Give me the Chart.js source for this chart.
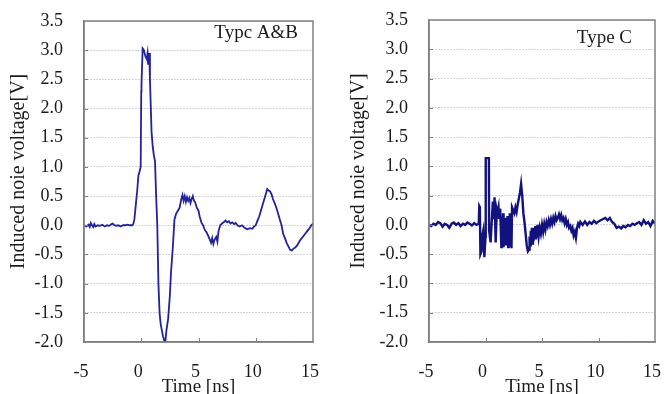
<!DOCTYPE html>
<html>
<head>
<meta charset="utf-8">
<script src="https://cdn.jsdelivr.net/npm/chart.js@4/dist/chart.umd.min.js"></script>
<style>
  html, body { margin: 0; padding: 0; background: #fff; overflow: hidden; }
  #wrap { position: relative; width: 664px; height: 394px; overflow: hidden; }
  #leftBox { position: absolute; left: 0; top: 0; width: 330px; height: 394px; }
  #rightBox { position: absolute; left: 330px; top: 0; width: 350px; height: 394px; }
</style>
</head>
<body>
<div id="wrap">
  <div id="leftBox"><canvas id="chartAB" width="330" height="394"></canvas></div>
  <div id="rightBox"><canvas id="chartC" width="350" height="394"></canvas></div>
</div>
<script>
// Type A&B waveform (time in ns, voltage in V)
const timeAB = [-5.0,-4.8,-4.6,-4.5,-4.4,-4.3,-4.2,-4.1,-4.0,-3.8,-3.6,-3.4,-3.2,-3.0,-2.8,-2.6,-2.5,-2.4,-2.2,-2.0,-1.8,-1.6,-1.4,-1.2,-1.0,-0.8,-0.7,-0.6,-0.5,-0.45,-0.35,-0.25,-0.15,-0.05,0.0,0.02,0.12,0.23,0.35,0.47,0.55,0.6,0.7,0.76,0.9,1.0,1.1,1.2,1.3,1.4,1.5,1.6,1.7,1.8,1.9,2.0,2.1,2.2,2.35,2.5,2.6,2.75,2.9,3.05,3.2,3.35,3.5,3.6,3.7,3.8,3.9,4.0,4.1,4.2,4.3,4.4,4.5,4.6,4.7,4.85,5.0,5.1,5.25,5.4,5.55,5.7,5.85,6.0,6.1,6.2,6.3,6.4,6.55,6.65,6.75,6.9,7.05,7.2,7.35,7.5,7.65,7.8,7.95,8.1,8.25,8.4,8.6,8.8,9.0,9.25,9.5,9.7,9.85,10.0,10.15,10.3,10.45,10.6,10.75,10.9,11.0,11.1,11.25,11.4,11.5,11.65,11.8,11.95,12.1,12.25,12.4,12.55,12.7,12.85,13.0,13.15,13.3,13.45,13.6,13.75,13.9,14.1,14.3,14.5,14.7,14.85,15.0];
const voltAB = [0.0,-0.02,0.01,-0.03,0.04,0.0,-0.03,0.02,-0.02,0.0,-0.01,0.01,-0.02,0.0,-0.01,0.02,0.03,0.01,-0.01,0.0,-0.02,0.0,0.0,0.01,0.0,0.0,0.02,0.1,0.3,0.4,0.6,0.85,0.92,1.0,2.3,2.4,3.03,3.0,2.9,2.85,2.95,2.75,2.95,2.5,1.6,1.35,1.2,1.1,0.5,0.0,-1.0,-1.5,-1.7,-1.8,-1.9,-1.97,-2.0,-1.8,-1.6,-1.2,-0.8,-0.4,0.1,0.2,0.25,0.3,0.45,0.52,0.42,0.5,0.4,0.48,0.42,0.47,0.38,0.45,0.5,0.42,0.4,0.3,0.25,0.15,0.05,0.0,-0.08,-0.12,-0.18,-0.25,-0.3,-0.22,-0.32,-0.25,-0.2,-0.28,-0.1,0.0,0.03,0.05,0.08,0.05,0.07,0.03,0.05,0.02,0.04,0.0,-0.02,0.0,-0.04,-0.07,-0.05,-0.06,-0.02,0.0,0.08,0.15,0.25,0.35,0.45,0.55,0.62,0.6,0.58,0.52,0.45,0.38,0.3,0.2,0.1,0.0,-0.15,-0.22,-0.3,-0.36,-0.42,-0.43,-0.4,-0.38,-0.35,-0.3,-0.25,-0.2,-0.15,-0.1,-0.05,0.0,0.03];

// Type C waveform
const timeC = [-5.0,-4.8,-4.6,-4.4,-4.2,-4.0,-3.8,-3.6,-3.4,-3.2,-3.0,-2.8,-2.6,-2.4,-2.2,-2.0,-1.8,-1.6,-1.4,-1.2,-1.0,-0.8,-0.6,-0.55,-0.5,-0.45,-0.35,-0.3,-0.2,-0.1,0.0,0.02,0.3,0.32,0.45,0.55,0.65,0.75,0.8,0.9,1.0,1.05,1.15,1.2,1.3,1.4,1.45,1.5,1.55,1.6,1.65,1.7,1.75,1.8,1.85,1.9,1.95,2.0,2.05,2.1,2.15,2.2,2.25,2.3,2.35,2.45,2.55,2.65,2.75,2.85,2.95,3.05,3.15,3.25,3.35,3.45,3.55,3.65,3.75,3.85,3.9,3.95,4.0,4.05,4.1,4.15,4.2,4.25,4.3,4.35,4.4,4.45,4.5,4.55,4.6,4.7,4.8,4.9,5.0,5.1,5.2,5.3,5.4,5.5,5.6,5.7,5.8,5.9,6.0,6.1,6.2,6.3,6.4,6.5,6.6,6.7,6.8,6.9,7.0,7.1,7.2,7.3,7.4,7.5,7.6,7.7,7.8,7.9,8.0,8.1,8.2,8.3,8.4,8.6,8.8,9.0,9.2,9.4,9.6,9.8,10.0,10.2,10.4,10.6,10.8,11.0,11.2,11.4,11.6,11.8,12.0,12.2,12.4,12.6,12.8,13.0,13.2,13.4,13.6,13.8,14.0,14.2,14.4,14.6,14.8,15.0];
const voltC = [0.0,-0.02,0.02,0.0,0.05,0.03,-0.03,0.02,0.0,-0.05,0.02,0.04,0.0,0.03,-0.02,0.02,0.0,0.04,0.02,-0.01,0.03,0.0,0.02,0.32,0.3,-0.5,-0.45,-0.2,-0.1,-0.55,-0.2,1.14,1.14,-0.1,-0.3,0.05,0.4,0.1,0.47,-0.3,0.25,0.2,0.3,0.1,0.28,-0.38,0.15,-0.3,0.2,-0.38,0.05,-0.3,0.12,-0.35,0.0,-0.3,0.15,-0.38,0.05,-0.25,0.2,-0.35,-0.1,-0.4,0.3,0.25,0.2,0.3,0.22,0.35,0.45,0.55,0.7,0.5,0.2,0.05,-0.15,-0.35,-0.45,-0.42,-0.2,-0.35,-0.1,-0.3,-0.05,-0.32,-0.08,-0.28,-0.05,-0.25,-0.02,-0.25,-0.05,-0.22,0.0,-0.2,-0.05,-0.15,0.0,-0.12,0.02,-0.08,0.05,-0.02,0.08,0.0,0.1,0.02,0.12,0.05,0.15,0.08,0.12,0.18,0.1,0.17,0.08,0.12,0.03,0.1,0.0,0.05,-0.05,-0.02,-0.1,-0.05,-0.18,-0.12,-0.22,-0.05,0.02,-0.02,0.05,0.0,0.06,0.0,0.05,0.02,0.07,0.03,0.06,0.08,0.1,0.12,0.08,0.12,0.05,0.02,-0.05,-0.03,-0.06,-0.02,-0.04,0.0,-0.02,0.02,0.0,0.03,0.05,0.0,0.08,0.02,0.05,-0.02,0.07,0.02];

const xTicks = [-5, 0, 5, 10, 15];
const yMin = -2.0, yMax = 3.5, yStep = 0.5;
const yTitle = 'Induced noie voltage[V]';
const xTitle = 'Time [ns]';

const serif = '"Liberation Serif", "Times New Roman", serif';

// box around the plot, inward tick marks, y title and panel label
const framePlugin = {
  id: 'frame',
  afterDraw(chart, args, opts) {
    const a = chart.chartArea, ctx = chart.ctx;
    const xs = chart.scales.x, ys = chart.scales.y;
    ctx.save();
    ctx.strokeStyle = '#808080';
    ctx.lineWidth = 1.5;
    ctx.strokeRect(a.left, a.top, a.right - a.left, a.bottom - a.top);

    // small ticks pointing into the plot
    ctx.lineWidth = 1;
    ctx.beginPath();
    xTicks.slice(1, -1).forEach(v => {
      const px = Math.round(xs.getPixelForValue(v)) + 0.5;
      ctx.moveTo(px, a.bottom);
      ctx.lineTo(px, a.bottom - 4);
    });
    for (let v = yMin + yStep; v < yMax - 1e-9; v += yStep) {
      const py = Math.round(ys.getPixelForValue(v)) + 0.5;
      ctx.moveTo(a.left, py);
      ctx.lineTo(a.left + 4, py);
    }
    ctx.stroke();

    ctx.fillStyle = '#1a1a1a';
    ctx.font = '19px ' + serif;
    ctx.textAlign = 'right';
    ctx.textBaseline = 'middle';
    ctx.fillText(opts.text, a.right - opts.dx, a.top + opts.dy);

    // rotated y title
    ctx.font = '20px ' + serif;
    ctx.translate(opts.titleX, (a.top + a.bottom) / 2 - 10);
    ctx.rotate(-Math.PI / 2);
    ctx.textAlign = 'center';
    ctx.fillText(yTitle, 0, 0);
    ctx.restore();
  }
};

function toPoints(xs, ys) {
  return xs.map((x, i) => ({ x: x, y: ys[i] }));
}

function makeChart(id, xs, ys, cfg) {
  const ctx = document.getElementById(id).getContext('2d');
  return new Chart(ctx, {
    type: 'line',
    data: {
      datasets: [{
        data: toPoints(xs, ys),
        borderColor: cfg.color,
        borderWidth: cfg.lineWidth,
        pointRadius: 0,
        tension: 0,
        fill: false
      }]
    },
    options: {
      responsive: false,
      animation: false,
      layout: { padding: cfg.padding },
      plugins: {
        legend: { display: false },
        tooltip: { enabled: false },
        frame: { text: cfg.label, dx: cfg.labelDx, dy: cfg.labelDy, titleX: cfg.titleX }
      },
      scales: {
        x: {
          type: 'linear',
          min: -5, max: 15,
          afterBuildTicks: s => { s.ticks = xTicks.map(v => ({ value: v })); },
          afterFit: s => {
            s.height = 52;
            s.paddingLeft = 0; s.paddingRight = 0;
          },
          grid: { display: false, drawTicks: false },
          border: { color: '#808080', width: 1.5 },
          ticks: { color: '#1a1a1a', padding: 19, labelOffset: -3, font: { family: serif, size: 18 }, maxRotation: 0 },
          title: { display: true, text: xTitle, color: '#1a1a1a', padding: { top: 0, bottom: -4 }, font: { family: serif, size: 19 } }
        },
        y: {
          type: 'linear',
          min: yMin, max: yMax,
          afterFit: s => {
            s.width = cfg.yWidth;
            s.paddingTop = 0; s.paddingBottom = 0;
          },
          grid: { color: '#a8a8a8', lineWidth: 1, drawTicks: false },
          border: { color: '#808080', width: 1.5, dash: [1, 2] },
          ticks: {
            stepSize: yStep, color: '#1a1a1a', padding: 21,
            font: { family: serif, size: 18 },
            callback: v => v.toFixed(1)
          },
          title: { display: false }
        }
      }
    },
    plugins: [framePlugin]
  });
}

makeChart('chartAB', timeAB, voltAB, {
  color: '#22229c', lineWidth: 1.8,
  padding: { left: 0, top: 21, right: 17, bottom: 0 },
  yWidth: 84, titleX: 18.5,
  label: 'Typc A&B', labelDx: 15, labelDy: 12
});

makeChart('chartC', timeC, voltC, {
  color: '#12127e', lineWidth: 2.4,
  padding: { left: 0, top: 20, right: 25, bottom: 0 },
  yWidth: 99, titleX: 29,
  label: 'Type C', labelDx: 23, labelDy: 18
});
</script>
</body>
</html>
